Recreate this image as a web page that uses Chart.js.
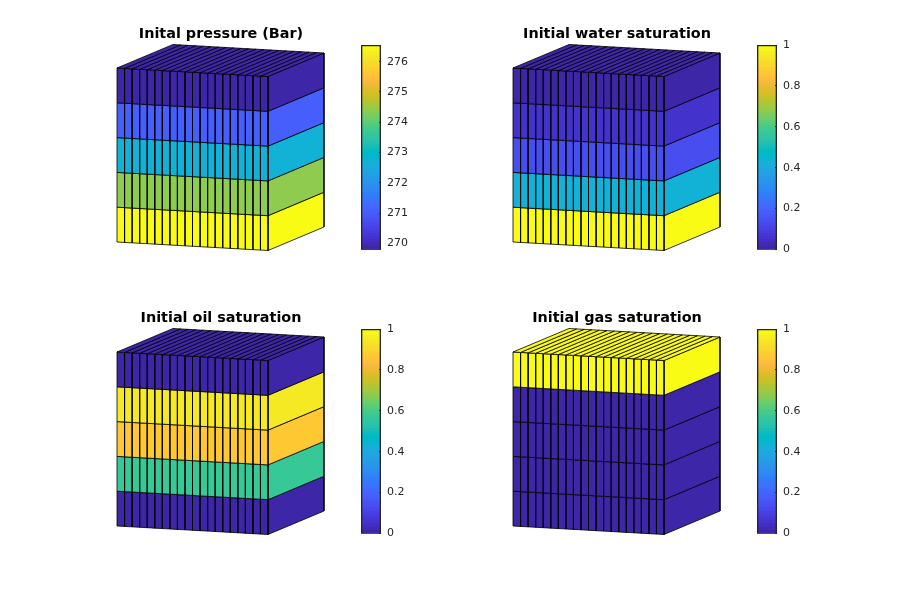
<!DOCTYPE html>
<html>
<head>
<meta charset="utf-8">
<title>Initial state</title>
<script src="https://cdn.jsdelivr.net/npm/chart.js@4"></script>
<style>
  html, body { margin: 0; padding: 0; background: #fff; }
  #fig { position: relative; width: 900px; height: 600px; overflow: hidden; }
  canvas { position: absolute; }
</style>
</head>
<body>
<div id="fig"></div>
<script>
// values per layer, top layer first
const pressure = [269.8, 271.0, 272.7, 274.4, 276.55];
const waterSat = [0.0, 0.055, 0.13, 0.43, 1];
const oilSat = [0.0, 0.945, 0.865, 0.57, 0.0];
const gasSat = [1, 0, 0, 0, 0];

const titles = ['Inital pressure (Bar)', 'Initial water saturation', 'Initial oil saturation', 'Initial gas saturation'];
const pressureTicks = [270, 271, 272, 273, 274, 275, 276];
const satTicks = [0, 0.2, 0.4, 0.6, 0.8, 1];
const pressureRange = [269.8, 276.55];
const satRange = [0, 1];

// grid size
const nx = 20;
const nz = 5;

// parula, 64 steps
const parula = [
  [0.2422,0.1504,0.6603],[0.2504,0.1650,0.7076],[0.2578,0.1818,0.7511],[0.2647,0.1978,0.7952],
  [0.2706,0.2147,0.8364],[0.2751,0.2342,0.8710],[0.2783,0.2559,0.8991],[0.2803,0.2782,0.9221],
  [0.2813,0.3006,0.9414],[0.2810,0.3228,0.9579],[0.2795,0.3447,0.9717],[0.2760,0.3667,0.9829],
  [0.2699,0.3892,0.9906],[0.2602,0.4123,0.9952],[0.2440,0.4358,0.9988],[0.2206,0.4603,0.9973],
  [0.1963,0.4847,0.9892],[0.1834,0.5074,0.9798],[0.1786,0.5289,0.9682],[0.1764,0.5499,0.9520],
  [0.1687,0.5703,0.9359],[0.1540,0.5902,0.9218],[0.1460,0.6091,0.9079],[0.1380,0.6276,0.8973],
  [0.1248,0.6459,0.8883],[0.1113,0.6635,0.8763],[0.0952,0.6798,0.8598],[0.0689,0.6948,0.8394],
  [0.0297,0.7082,0.8163],[0.0036,0.7203,0.7917],[0.0067,0.7312,0.7660],[0.0433,0.7411,0.7394],
  [0.0964,0.7500,0.7120],[0.1408,0.7584,0.6842],[0.1717,0.7670,0.6554],[0.1938,0.7758,0.6251],
  [0.2161,0.7843,0.5923],[0.2470,0.7918,0.5567],[0.2906,0.7973,0.5188],[0.3406,0.8008,0.4789],
  [0.3909,0.8029,0.4354],[0.4456,0.8024,0.3909],[0.5044,0.7993,0.3480],[0.5616,0.7942,0.3045],
  [0.6174,0.7876,0.2612],[0.6720,0.7793,0.2227],[0.7242,0.7698,0.1910],[0.7738,0.7598,0.1646],
  [0.8203,0.7498,0.1535],[0.8634,0.7406,0.1596],[0.9035,0.7330,0.1774],[0.9393,0.7288,0.2100],
  [0.9728,0.7298,0.2394],[0.9956,0.7434,0.2371],[0.9970,0.7659,0.2199],[0.9952,0.7861,0.1989],
  [0.9892,0.8136,0.1885],[0.9786,0.8422,0.1764],[0.9676,0.8639,0.1643],[0.9610,0.8890,0.1537],
  [0.9597,0.9135,0.1423],[0.9628,0.9373,0.1265],[0.9691,0.9606,0.1064],[0.9769,0.9839,0.0805]
];

function rgb(c) {
  return 'rgb(' + c.map(v => Math.round(v * 255)).join(',') + ')';
}

function colorOf(v, range) {
  const t = (v - range[0]) / (range[1] - range[0]);
  return rgb(parula[Math.max(0, Math.min(63, Math.floor(t * 64)))]);
}

// oblique view of the box: grid (i, j, k) -> axes units
const fontName = '"DejaVu Sans", sans-serif';
const view = { x0: 117, y0: 25, ix: 151 / nx, iy: 8.5 / nx, jx: 56, jy: -23.5, kz: 174 / nz };

function project(i, j, k) {
  return {
    x: view.x0 + i * view.ix + j * view.jx,
    y: view.y0 + i * view.iy + j * view.jy + k * view.kz
  };
}

function cell(corners, color) {
  const pts = corners.map(c => project(c[0], c[1], c[2]));
  pts.push(pts[0]);
  return {
    data: pts,
    showLine: true,
    fill: 'shape',
    backgroundColor: color,
    borderColor: '#000',
    borderWidth: 0.8,
    pointRadius: 0,
    tension: 0
  };
}

function boxDatasets(values, range) {
  const sets = [];
  // top face
  for (let i = 0; i < nx; i++) {
    sets.push(cell([[i, 0, 0], [i + 1, 0, 0], [i + 1, 1, 0], [i, 1, 0]], colorOf(values[0], range)));
  }
  for (let k = 0; k < nz; k++) {
    const c = colorOf(values[k], range);
    // front face
    for (let i = 0; i < nx; i++) {
      sets.push(cell([[i, 0, k], [i + 1, 0, k], [i + 1, 0, k + 1], [i, 0, k + 1]], c));
    }
    // side face
    sets.push(cell([[nx, 0, k], [nx, 1, k], [nx, 1, k + 1], [nx, 0, k + 1]], c));
  }
  return sets;
}

function addCanvas(left, top, w, h) {
  const cv = document.createElement('canvas');
  cv.width = w;
  cv.height = h;
  cv.style.left = left + 'px';
  cv.style.top = top + 'px';
  document.getElementById('fig').appendChild(cv);
  return cv.getContext('2d');
}

function drawBox(left, top, title, values, range) {
  new Chart(addCanvas(left, top, 442, 260), {
    type: 'scatter',
    data: { datasets: boxDatasets(values, range) },
    options: {
      responsive: false,
      animation: false,
      events: [],
      plugins: {
        legend: { display: false },
        tooltip: { enabled: false },
        title: {
          display: true,
          text: title,
          color: '#000',
          font: { family: fontName, size: 14.4, weight: 'bold', lineHeight: 1.25 },
          padding: { top: 25, bottom: 0 }
        }
      },
      scales: {
        x: { type: 'linear', display: false, min: 0, max: 442 },
        y: { type: 'linear', display: false, min: 0, max: 217, reverse: true }
      }
    }
  });
}

function drawColorbar(left, top, range, ticks) {
  const sets = [];
  // each step runs from the bottom so no seams show between bars
  parula.forEach((c, i) => {
    sets.push({
      data: [[range[0], range[0] + (range[1] - range[0]) * (i + 1) / 64]],
      backgroundColor: rgb(c),
      barPercentage: 1,
      categoryPercentage: 1
    });
  });
  // frame
  sets.push({
    data: [[range[0], range[1]]],
    backgroundColor: 'rgba(0,0,0,0)',
    borderColor: '#262626',
    borderWidth: 1,
    barPercentage: 1,
    categoryPercentage: 1,
    order: -1
  });

  new Chart(addCanvas(left + 361, top + 30, 50, 235), {
    type: 'bar',
    data: { labels: [''], datasets: sets },
    options: {
      responsive: false,
      animation: false,
      events: [],
      grouped: false,
      // tick padding already reserves about this much, so these act as minimums
      layout: { padding: { top: 15, bottom: 15.5, left: 0, right: 0 } },
      plugins: { legend: { display: false }, tooltip: { enabled: false } },
      scales: {
        x: { display: false },
        y: {
          position: 'right',
          min: range[0],
          max: range[1],
          afterBuildTicks: s => { s.ticks = ticks.map(v => ({ value: v })); },
          afterFit: s => { s.width = 30; },
          border: { display: false },
          grid: { drawOnChartArea: false, drawTicks: true, tickLength: -2, color: '#262626', z: 1 },
          ticks: {
            color: '#262626',
            padding: 8,
            font: { family: fontName, size: 11 },
            callback: v => String(v)
          }
        }
      }
    }
  });
}

drawBox(0, 0, titles[0], pressure, pressureRange);
drawColorbar(0, 0, pressureRange, pressureTicks);
drawBox(396, 0, titles[1], waterSat, satRange);
drawColorbar(396, 0, satRange, satTicks);
drawBox(0, 284, titles[2], oilSat, satRange);
drawColorbar(0, 284, satRange, satTicks);
drawBox(396, 284, titles[3], gasSat, satRange);
drawColorbar(396, 284, satRange, satTicks);
</script>
</body>
</html>
